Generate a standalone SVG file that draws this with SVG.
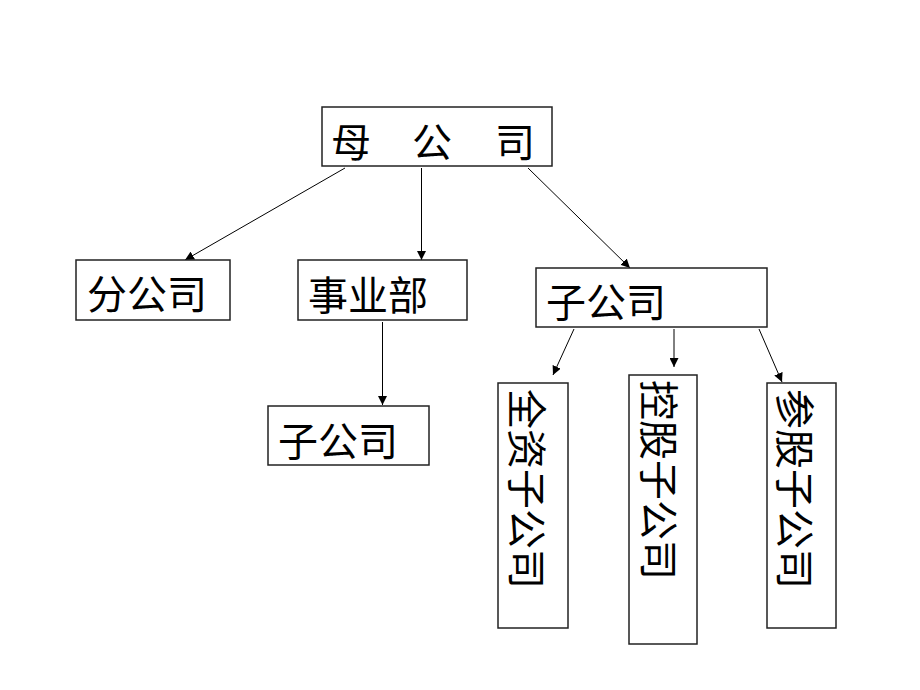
<svg xmlns="http://www.w3.org/2000/svg" width="920" height="690" viewBox="0 0 920 690">
<defs>
<marker id="arr" viewBox="0 0 10 10" refX="10" refY="5" markerWidth="9" markerHeight="9" markerUnits="userSpaceOnUse" orient="auto">
<path d="M0,0 L10,5 L0,10 z" fill="#000"/>
</marker>
<style>
.box{fill:#fff;stroke:#222;stroke-width:1.5}
.t{font-family:"Noto Sans CJK SC","Noto Sans CJK JP",sans-serif;font-size:40px;fill:#000;dominant-baseline:central}
.c{stroke:#000;stroke-width:1;fill:none;marker-end:url(#arr)}
</style>
</defs>
<rect width="920" height="690" fill="#fff"/>
<g id="connectors">
<line class="c" x1="345" y1="168" x2="185" y2="260"/>
<line class="c" x1="421.5" y1="168" x2="421.5" y2="260"/>
<line class="c" x1="528" y1="168" x2="630" y2="268"/>
<line class="c" x1="382.5" y1="322" x2="382.5" y2="405"/>
<line class="c" x1="574" y1="329" x2="553" y2="375"/>
<line class="c" x1="674" y1="329" x2="674" y2="367"/>
<line class="c" x1="759" y1="329" x2="782" y2="382"/>
</g>
<g id="parent">
<rect class="box" x="322" y="107" width="230" height="59"/>
<text class="t" x="331 412 495" y="140">母公司</text>
</g>
<g id="branch">
<rect class="box" x="76" y="260" width="154" height="60"/>
<text class="t" x="87" y="292">分公司</text>
</g>
<g id="division">
<rect class="box" x="298" y="260" width="169" height="60"/>
<text class="t" x="308" y="293">事业部</text>
</g>
<g id="division-sub">
<rect class="box" x="268" y="406" width="161" height="59"/>
<text class="t" x="278" y="439">子公司</text>
</g>
<g id="subsidiary">
<rect class="box" x="536" y="268" width="231" height="59"/>
<text class="t" x="546" y="300">子公司</text>
</g>
<g id="wholly-owned">
<rect class="box" x="498" y="383" width="70" height="245"/>
<text class="t" transform="translate(529,389) rotate(90)" x="0" y="0">全资子公司</text>
</g>
<g id="controlled">
<rect class="box" x="629" y="375" width="68" height="269"/>
<text class="t" transform="translate(661,380) rotate(90)" x="0" y="0">控股子公司</text>
</g>
<g id="associated">
<rect class="box" x="767" y="383" width="69" height="245"/>
<text class="t" transform="translate(797,389) rotate(90)" x="0" y="0">参股子公司</text>
</g>
</svg>
